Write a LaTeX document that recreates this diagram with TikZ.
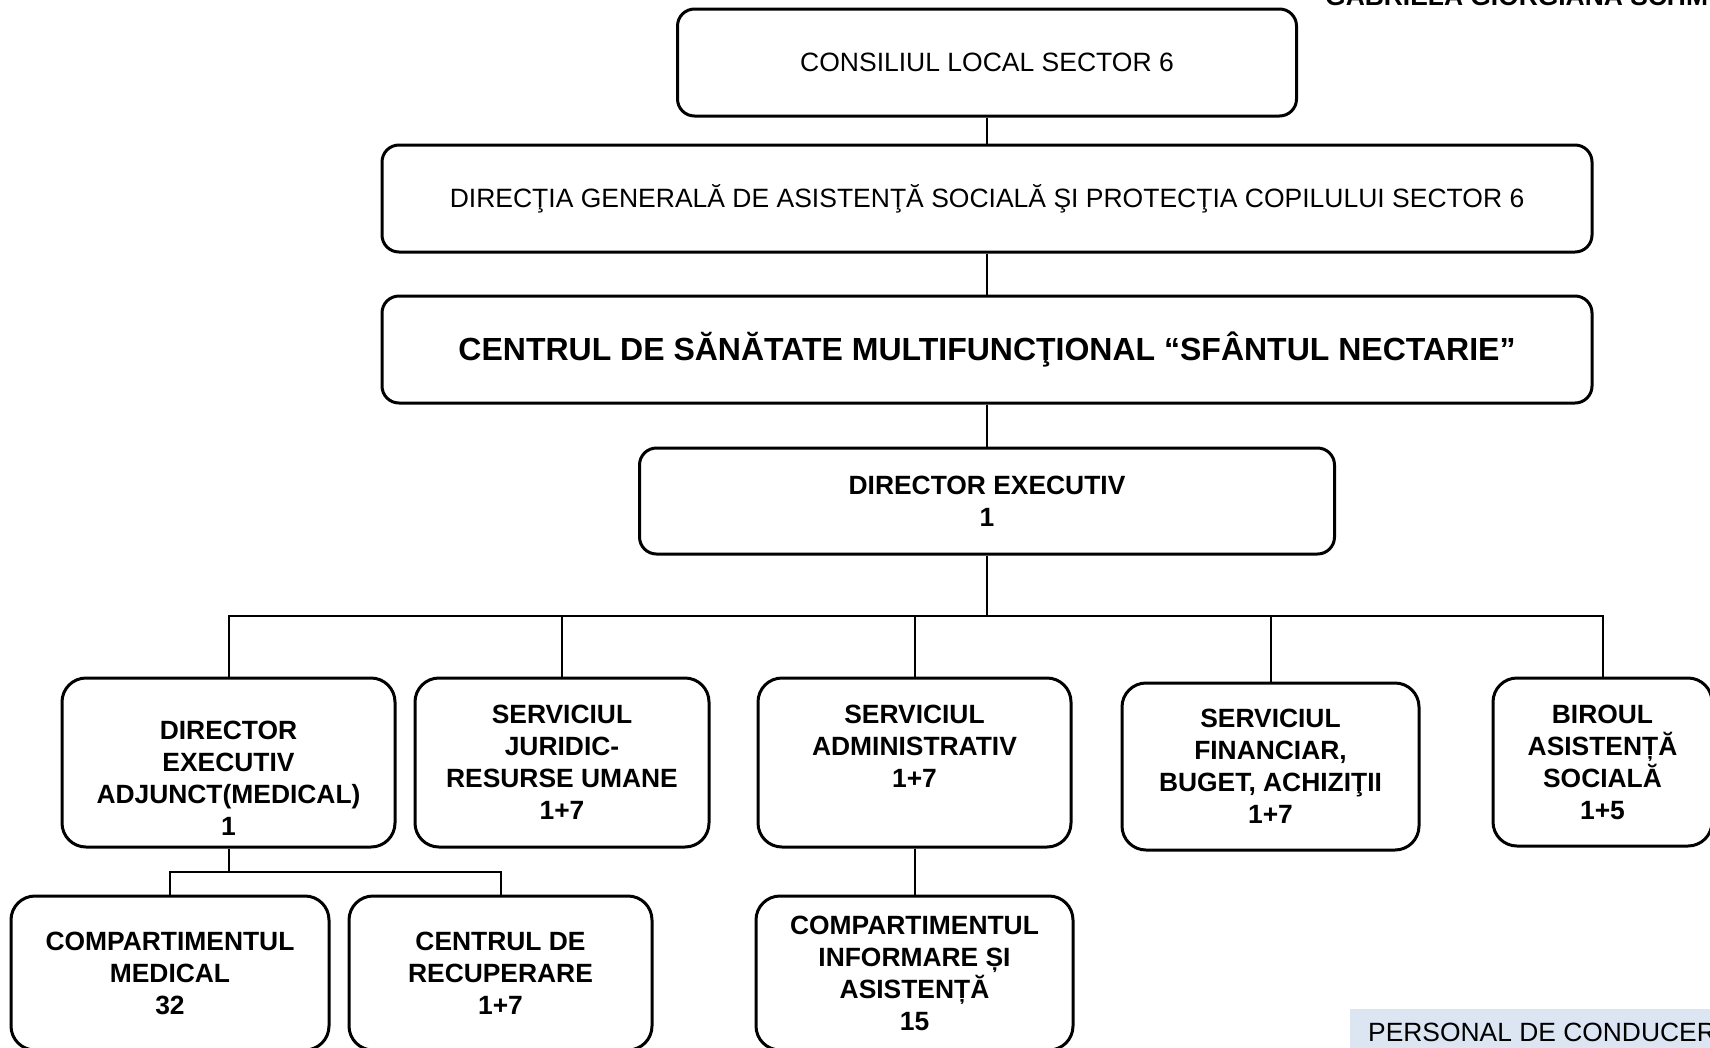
\documentclass[tikz,border=0pt]{standalone}
\usepackage{fontspec}
\setmainfont{Liberation Sans}
\definecolor{persbg}{RGB}{220,230,242}

\begin{document}
\begin{tikzpicture}[x=1pt,y=-1pt,
  box/.style={draw,line width=3pt,rounded corners=17pt,align=center,inner sep=0pt,
    font=\fontsize{26.5}{32}\selectfont},
  unit/.style={box,rounded corners=24pt,font=\fontsize{26.4}{32}\selectfont\bfseries},
  link/.style={line width=2pt}]
\useasboundingbox (0,0) rectangle (1710,1047);
\clip (0,0) rectangle (1710,1047);
% top of the chart
\node[anchor=base west,inner sep=0pt,font=\fontsize{26.4}{32}\selectfont\bfseries] (autor) at (1325,5) {GABRIELA GIORGIANA SCHM};
\node[box,minimum width=619,minimum height=107] (cons) at (987,62.5) {CONSILIUL LOCAL SECTOR 6};
\node[box,minimum width=1210,minimum height=107] (dgas) at (987,198.5) {DIRECŢIA GENERALĂ DE ASISTENŢĂ SOCIALĂ ŞI PROTECŢIA COPILULUI SECTOR 6};
\node[box,minimum width=1210,minimum height=107,font=\fontsize{32}{38}\selectfont\bfseries] (csm) at (987,349.5) {CENTRUL DE SĂNĂTATE MULTIFUNCŢIONAL “SFÂNTUL NECTARIE”};
\node[box,minimum width=695,minimum height=106,font=\fontsize{26.4}{32}\selectfont\bfseries] (dir) at (987,501) {DIRECTOR EXECUTIV\\1};
% second level
\node[unit,minimum width=333,minimum height=169] (dea) at (228.5,762.5) {\vphantom{1}\\DIRECTOR\\EXECUTIV\\ADJUNCT(MEDICAL)\\1};
\node[unit,minimum width=294,minimum height=169] (sj) at (562,762.5) {SERVICIUL\\JURIDIC-\\RESURSE UMANE\\1+7};
\node[unit,minimum width=313,minimum height=169] (sa) at (914.5,762.5) {SERVICIUL\\ADMINISTRATIV\\1+7\\\vphantom{1}};
\node[unit,minimum width=297,minimum height=167] (sf) at (1270.5,766.5) {SERVICIUL\\FINANCIAR,\\BUGET, ACHIZIŢII\\1+7};
\node[unit,minimum width=219,minimum height=168] (bas) at (1602.5,762) {BIROUL\\ASISTENȚĂ\\SOCIALĂ\\1+5};
% third level
\node[unit,minimum width=318,minimum height=154] (cm) at (170,973) {COMPARTIMENTUL\\MEDICAL\\32};
\node[unit,minimum width=303,minimum height=154] (cr) at (500.5,973) {CENTRUL DE\\RECUPERARE\\1+7};
\node[unit,minimum width=317,minimum height=154] (cia) at (914.5,973) {COMPARTIMENTUL\\INFORMARE ȘI\\ASISTENȚĂ\\15};
% legend
\fill[persbg] (1350,1009) rectangle (1712,1050);
\node[anchor=base west,inner sep=0pt,font=\fontsize{26.4}{32}\selectfont] (pers) at (1368,1041) {PERSONAL DE CONDUCER};
% links
\coordinate (bus) at (987,616);
\coordinate (sub) at (228.5,872);
\draw[link] (cons) -- (dgas);
\draw[link] (dgas) -- (csm);
\draw[link] (csm) -- (dir);
\draw[link] (dir) -- (bus);
\draw[link] (dea.north) |- (bus) -| (bas.north);
\draw[link] (sj.north) -- (sj.north |- bus);
\draw[link] (sa.north) -- (sa.north |- bus);
\draw[link] (sf.north) -- (sf.north |- bus);
\draw[link] (dea) -- (sub);
\draw[link] (cm.north) |- (sub) -| (cr.north);
\draw[link] (sa) -- (cia);
\end{tikzpicture}
\end{document}
